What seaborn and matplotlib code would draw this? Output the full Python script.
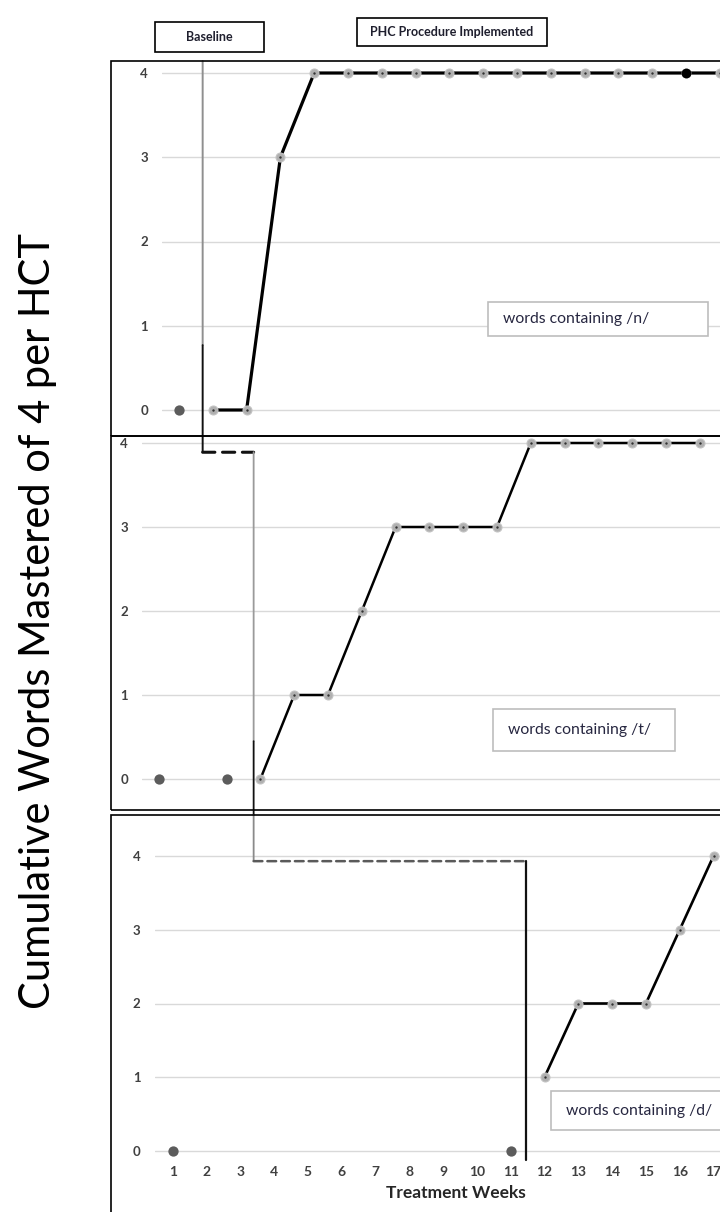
import matplotlib
matplotlib.use("Agg")
import matplotlib.pyplot as plt
from matplotlib.patches import Rectangle, ConnectionPatch
from matplotlib.transforms import blended_transform_factory
import seaborn as sns

# --- dados (semanas x palavras acumuladas) ---
semanas = list(range(1, 18))

n_sem_base = [1]
n_base = [0]
n_sem_trat = list(range(2, 18))
n_trat = [0, 0, 3, 4, 4, 4, 4, 4, 4, 4, 4, 4, 4, 4, 4, 4]
n_destaque_sem = [16]
n_destaque = [4]

t_sem_base = [1, 3]
t_base = [0, 0]
t_sem_trat = list(range(4, 18))
t_trat = [0, 1, 1, 2, 3, 3, 3, 3, 4, 4, 4, 4, 4, 4]

d_sem_base = [1, 11]
d_base = [0, 0]
d_sem_trat = list(range(12, 18))
d_trat = [1, 2, 2, 2, 3, 4]

fase = [1.7, 3.8, 11.45]      # linha de mudança de fase em cada painel
nivel_t = 3.89                 # altura do tracejado entre painel 1 e 2
nivel_d = 3.93                 # altura do tracejado entre painel 2 e 3
niveis_y = [0, 1, 2, 3, 4]
rotulos = ["words containing /n/", "words containing /t/", "words containing /d/"]

sns.set_style("white")
plt.rcParams['font.family'] = ['Lato', 'DejaVu Sans']

W, H = 720, 1212
fig = plt.figure(figsize=(7.2, 12.12), dpi=100)


def fx(x):
    return x / W


def fy(y):
    return 1 - y / H


def painel(esq, topo, base, x1, y0, uy, pad, dx=33.8, dir_=745):
    ax = fig.add_axes([fx(esq), fy(base), fx(dir_) - fx(esq), fy(topo) - fy(base)])
    ax.set_xlim(1 + (esq - x1) / dx, 1 + (dir_ - x1) / dx)
    ax.set_ylim((y0 - base) / uy, (y0 - topo) / uy)
    ax.set_yticks(niveis_y)
    ax.set_xticks([])
    ax.yaxis.grid(True, color='#d9d9d9', lw=1.0)
    ax.set_axisbelow(True)
    for s in ax.spines.values():
        s.set_visible(False)
    ax.tick_params(axis='y', length=0, pad=pad, labelsize=9.5, labelcolor='#404040')
    for lb in ax.get_yticklabels():
        lb.set_fontweight('bold')
    ax.set_facecolor('none')
    return ax


ax1 = painel(162, 61, 436, 179, 410, 84.25, 10)
ax2 = painel(142, 436, 810, 159, 779, 84.0, 10)
ax3 = painel(155, 815, 1160, 172.7, 1151, 73.75, 10.5)


def desenha(ax, sb, vb, st, vt, lw):
    sns.lineplot(x=st, y=vt, ax=ax, color='black', lw=lw, marker='o', markersize=6.5,
                 markerfacecolor='#b0b0b0', markeredgecolor='#c4c4c4', clip_on=False,
                 zorder=3)
    sns.scatterplot(x=st, y=vt, ax=ax, color='#333333', s=3, linewidth=0,
                    clip_on=False, zorder=4)
    sns.scatterplot(x=sb, y=vb, ax=ax, color='#5c5c5c', s=55, linewidth=0,
                    clip_on=False, zorder=4)


desenha(ax1, n_sem_base, n_base, n_sem_trat, n_trat, 2.3)
sns.scatterplot(x=n_destaque_sem, y=n_destaque, ax=ax1, color='black', s=50,
                linewidth=0, zorder=5, clip_on=False)
desenha(ax2, t_sem_base, t_base, t_sem_trat, t_trat, 1.8)
desenha(ax3, d_sem_base, d_base, d_sem_trat, d_trat, 1.9)

# eixo x só no painel de baixo
ax3.set_xticks(semanas)
ax3.set_xticklabels([str(s) for s in semanas])
ax3.tick_params(axis='x', length=0, pad=4, labelsize=10, labelcolor='#404040')
for lb in ax3.get_xticklabels():
    lb.set_fontweight('bold')
fig.text(fx(456), fy(1193), 'Treatment Weeks', ha='center', va='center',
         fontsize=12.5, fontweight='bold', color='#262626')

# linhas de fase (atravessam os painéis)
t12 = blended_transform_factory(ax1.transData, ax2.transData)
t23 = blended_transform_factory(ax2.transData, ax3.transData)
t23a = blended_transform_factory(ax2.transData, ax3.transAxes)


def linha(a, ta, b, tb, **kw):
    cp = ConnectionPatch(a, b, coordsA=ta, coordsB=tb, arrowstyle='-',
                         shrinkA=0, shrinkB=0, zorder=6, **kw)
    fig.add_artist(cp)


ylim1 = ax1.get_ylim()
linha((fase[0], ylim1[1]), ax1.transData, (fase[0], 0.77), ax1.transData,
      color='#8f8f8f', lw=1.4)
linha((fase[0], 0.77), ax1.transData, (fase[0], nivel_t), t12, color='#111111', lw=1.4)
linha((fase[0], nivel_t), t12, (fase[1], nivel_t), ax2.transData,
      color='#111111', lw=2.2, linestyle=(0, (4, 2.5)))
linha((fase[1], nivel_t), ax2.transData, (fase[1], 0.45), ax2.transData,
      color='#9a9a9a', lw=1.3)
linha((fase[1], 0.45), ax2.transData, (fase[1], 1.0), t23a, color='#111111', lw=1.3)
linha((fase[1], 1.0), t23a, (fase[1], nivel_d), t23, color='#8a8a8a', lw=1.3)
linha((fase[1], nivel_d), t23, (fase[2], nivel_d), ax3.transData,
      color='#5a5a5a', lw=1.8, linestyle=(0, (3.5, 2)))
ax3.plot([fase[2], fase[2]], [nivel_d, ax3.get_ylim()[0]], color='#111111', lw=1.6,
         clip_on=False, zorder=6)

# molduras dos painéis
for (topo, base) in [(61, 436), (436, 810), (815, 1240)]:
    fig.add_artist(Rectangle((fx(111), fy(base)), fx(760) - fx(111), fy(topo) - fy(base),
                             transform=fig.transFigure, fill=False, edgecolor='black',
                             lw=1.2, zorder=7))

# caixas de rótulo de cada painel
caixas = [(488, 302, 708, 336), (493, 709, 675, 751), (551, 1091, 722, 1130)]
for (x0, y0, x1, y1), txt in zip(caixas, rotulos):
    fig.add_artist(Rectangle((fx(x0), fy(y1)), fx(x1) - fx(x0), fy(y0) - fy(y1),
                             transform=fig.transFigure, facecolor='white',
                             edgecolor='#bdbdbd', lw=1.2, zorder=5))
    fig.text(fx(x0 + 15), fy((y0 + y1) / 2), txt, ha='left', va='center',
             fontsize=11.3, color='#262640', zorder=8)

# caixas do topo
for (x0, y0, x1, y1), txt in zip([(155, 22, 264, 52), (357, 18, 547, 46)],
                                  ['Baseline', 'PHC Procedure Implemented']):
    fig.add_artist(Rectangle((fx(x0), fy(y1)), fx(x1) - fx(x0), fy(y0) - fy(y1),
                             transform=fig.transFigure, facecolor='white',
                             edgecolor='black', lw=1.2, zorder=7))
    fig.text(fx((x0 + x1) / 2), fy((y0 + y1) / 2), txt, ha='center', va='center',
             fontsize=9, fontweight='bold', color='#1f1f2e', zorder=8)

fig.text(fx(38), fy(621), 'Cumulative Words Mastered of 4 per HCT', rotation=90,
         ha='center', va='center', fontsize=30, color='black')

fig.savefig('out.png', dpi=100)
